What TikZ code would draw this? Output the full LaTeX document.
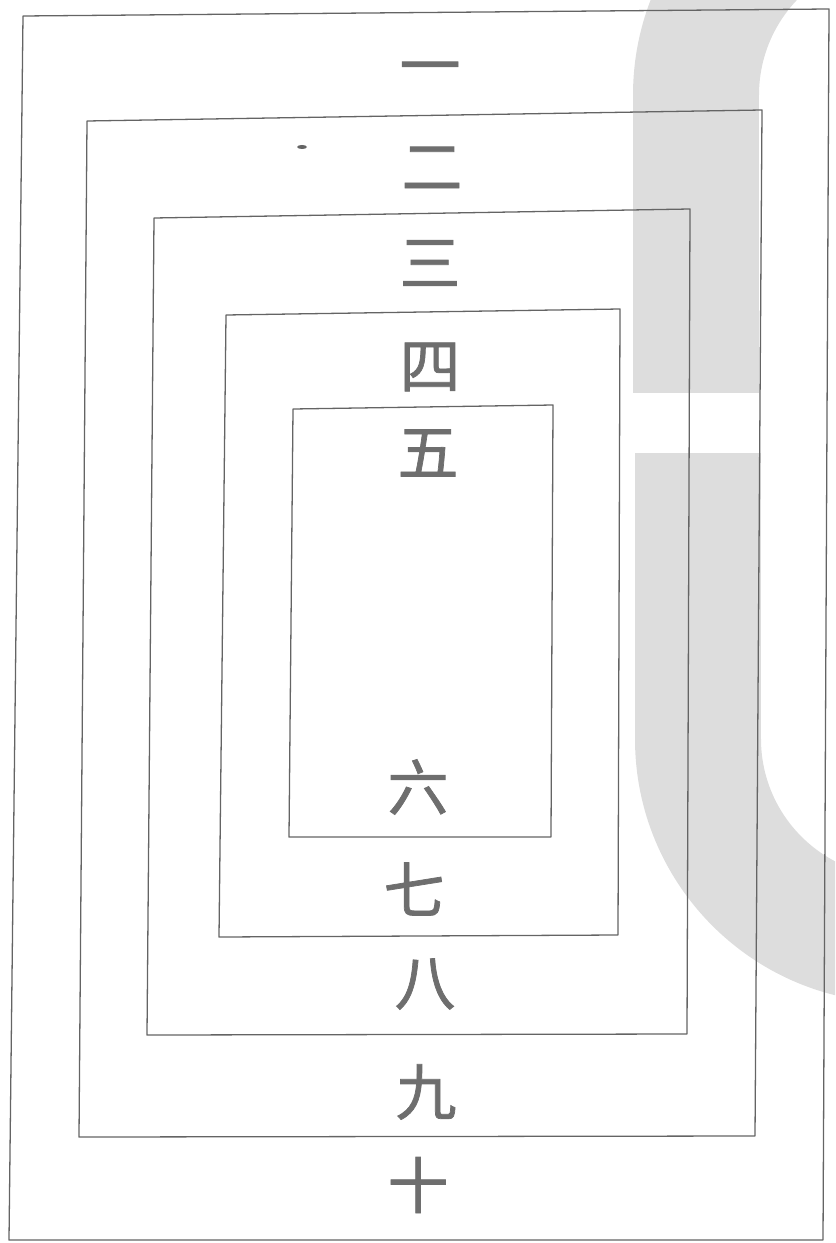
\documentclass[tikz,border=0pt]{standalone}
\usepackage{fontspec}
\newfontfamily\cjk[FakeBold=1.2]{Noto Sans CJK SC}
\definecolor{wm}{RGB}{221,221,221}
\definecolor{ink}{RGB}{100,100,100}
\definecolor{txt}{RGB}{110,110,110}
\begin{document}
\begin{tikzpicture}[x=0.03cm,y=-0.03cm,
  frame/.style={draw=ink,line width=1.1pt,line cap=round,line join=round},
  numeral/.style={font=\cjk\fontsize{52}{52}\selectfont,text=txt,inner sep=0pt}]
\useasboundingbox (0,0) rectangle (835,1243);
% watermark
\begin{scope}
  \clip (633,0) rectangle (835,95);
  \fill[wm,even odd rule] (897,95) circle[radius=264] (897,95) circle[radius=138];
\end{scope}
\fill[wm] (633,95) rectangle (759,393);
\fill[wm] (635,453) rectangle (761,739);
\begin{scope}
  \clip (635,739) rectangle (835,1243);
  \fill[wm,even odd rule] (899,739) circle[radius=264] (899,739) circle[radius=138];
\end{scope}
% frame corners
\coordinate (r1tl) at (23,16);   \coordinate (r1tr) at (829,9);
\coordinate (r1br) at (823,1240); \coordinate (r1bl) at (9,1240);
\coordinate (r2tl) at (87,121);  \coordinate (r2tr) at (762,110);
\coordinate (r2br) at (755,1136); \coordinate (r2bl) at (79,1137);
\coordinate (r3tl) at (154,218); \coordinate (r3tr) at (690,209);
\coordinate (r3br) at (687,1034); \coordinate (r3bl) at (147,1035);
\coordinate (r4tl) at (226,315); \coordinate (r4tr) at (620,309);
\coordinate (r4br) at (618,935); \coordinate (r4bl) at (219,937);
\coordinate (r5tl) at (293,409); \coordinate (r5tr) at (553,405);
\coordinate (r5br) at (551,837); \coordinate (r5bl) at (289,837);
\foreach \r in {r1,r2,r3,r4,r5}
  \draw[frame] (\r tl) -- (\r tr) -- (\r br) -- (\r bl) -- cycle;
% stray mark
\fill[ink] (302,147) ellipse[x radius=5,y radius=2];
% numerals
\node[numeral] (n1) at (430,75) {一};
\node[numeral] (n2) at (432,168) {二};
\node[numeral] (n3) at (430,263) {三};
\node[numeral] (n4) at (430,367) {四};
\node[numeral] (n5) at (428,453) {五};
\node[numeral] (n6) at (418,787) {六};
\node[numeral] (n7) at (414,889) {七};
\node[numeral] (n8) at (425,984) {八};
\node[numeral] (n9) at (426,1092) {九};
\node[numeral] (n10) at (418,1185) {十};
\end{tikzpicture}
\end{document}
